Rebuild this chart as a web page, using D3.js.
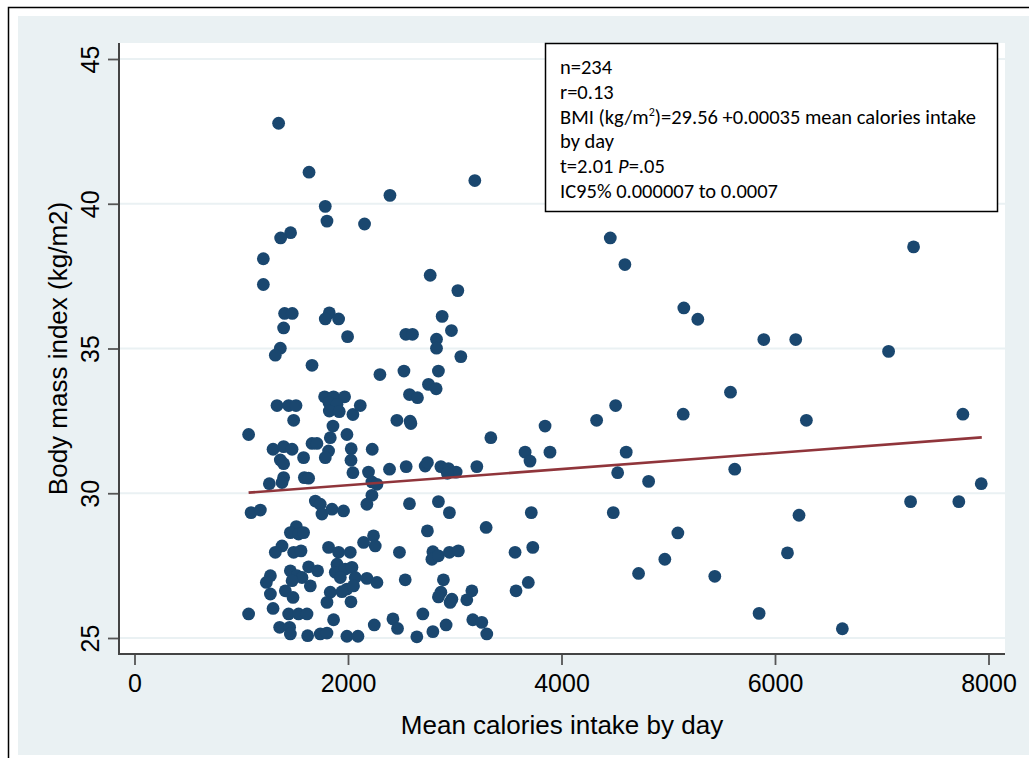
<!DOCTYPE html>
<html>
<head>
<meta charset="utf-8">
<script src="https://cdn.jsdelivr.net/npm/d3@7"></script>
<style>
  body { margin: 0; background: #fff; }
  svg { display: block; }
  text { font-family: "Liberation Sans", Arial, sans-serif; fill: #000; }
  .stats text { font-family: Carlito, Lato, "Open Sans", sans-serif; }
</style>
</head>
<body>
<div id="chart"></div>
<script>
// values
const calories = [
  1350,1635,3188,2393,1787,1803,2155,1462,1369,1207,
  1207,2770,3029,1406,1478,1825,1787,1912,1397,1996,
  2882,2969,2542,2604,2829,2829,1366,1319,3057,1663,
  2299,2524,2847,1781,1865,1968,1822,1897,1825,1918,
  2046,2115,1335,1444,1513,1491,1859,1069,1990,1834,
  1663,1709,1298,1397,1476,2030,2227,1818,1787,1584,
  1366,1397,2028,2046,2192,1397,1382,1591,1631,1263,
  2224,2271,2224,2177,1694,1740,1092,1179,1756,1850,
  1958,1516,1460,1537,1584,2146,2239,2255,1382,1319,
  1491,1560,1818,1912,2021,1897,1631,1715,1460,1522,
  1569,1476,1881,1974,2037,1928,2068,2177,2271,1273,
  1235,1647,1990,1943,2052,1273,1413,1485,1834,1803,
  2028,1298,1069,1444,1537,1616,1865,2246,1360,1453,
  1460,1622,1740,1803,1990,2093,2576,2651,2754,2826,
  2458,2582,2589,3338,2389,2545,2723,2744,2870,2941,
  3013,2931,3207,2576,2847,2950,3294,2744,2482,2795,
  2786,2847,2950,3034,2536,2894,2870,2847,2973,2957,
  3113,3160,2421,2464,2701,2645,2795,2919,3169,3253,
  3300,3846,3659,3705,3892,4329,4507,5140,5583,4606,
  4526,4816,5623,3717,4485,3565,3731,5090,4968,4722,
  5436,3574,3689,5851,6294,7760,7932,7270,7722,6225,
  6117,6631,4457,4594,5146,5277,5895,6194,7064,7298
];
const bmi = [
  42.78,41.09,40.80,40.29,39.91,39.40,39.30,39.00,38.82,38.10,
  37.21,37.53,37.00,36.21,36.21,36.23,36.02,36.02,35.71,35.41,
  36.11,35.62,35.49,35.49,35.32,35.01,35.01,34.77,34.72,34.42,
  34.10,34.22,34.22,33.33,33.33,33.33,33.13,33.07,32.84,32.82,
  32.72,33.03,33.03,33.03,33.03,32.52,32.32,32.03,32.03,31.92,
  31.72,31.72,31.52,31.61,31.52,31.54,31.52,31.46,31.23,31.23,
  31.15,31.02,31.14,30.71,30.73,30.54,30.37,30.54,30.52,30.33,
  30.39,30.31,29.93,29.62,29.73,29.62,29.33,29.42,29.28,29.45,
  29.39,28.85,28.64,28.59,28.64,28.30,28.53,28.18,28.18,27.96,
  27.96,28.01,28.13,27.96,27.96,27.55,27.46,27.32,27.32,27.15,
  27.09,26.98,27.27,27.38,27.44,27.09,27.09,27.06,26.92,27.15,
  26.92,26.80,26.69,26.60,26.80,26.52,26.63,26.40,26.58,26.23,
  26.25,26.02,25.83,25.83,25.83,25.83,25.63,25.45,25.37,25.37,
  25.14,25.08,25.14,25.17,25.06,25.06,33.41,33.30,33.76,33.61,
  32.52,32.49,32.41,31.92,30.83,30.92,30.94,31.06,30.92,30.85,
  30.73,30.69,30.92,29.64,29.71,29.33,28.82,28.70,27.96,27.98,
  27.72,27.84,27.96,28.01,27.01,27.01,26.58,26.42,26.34,26.23,
  26.32,26.63,25.66,25.33,25.83,25.04,25.22,25.45,25.63,25.54,
  25.14,32.32,31.42,31.11,31.42,32.52,33.03,32.73,33.49,31.42,
  30.71,30.41,30.83,29.33,29.33,27.96,28.13,28.63,27.72,27.23,
  27.13,26.63,26.92,25.85,32.52,32.73,30.33,29.71,29.71,29.24,
  27.94,25.32,38.82,37.90,36.40,36.01,35.31,35.31,34.90,38.51
];
// fitted line ends
const fitX = [1069, 7937];
const fitY = [30.02, 31.93];

const xTicks = [0, 2000, 4000, 6000, 8000];
const yTicks = [25, 30, 35, 40, 45];

const xTitle = "Mean calories intake by day";
const yTitle = "Body mass index (kg/m2)";

const W = 1029, H = 758;
const plot = {left: 119, top: 43, right: 1005, bottom: 654};

let svg = d3.select("#chart").append("svg")
  .attr("width", W)
  .attr("height", H);

// outer frame + graph region
svg.append("rect")
  .attr("x", 18).attr("y", 16)
  .attr("width", W - 18).attr("height", 739)
  .style("fill", "#eaf1f3");
svg.append("rect")
  .attr("x", 8.5).attr("y", 7.5)
  .attr("width", W).attr("height", H)
  .style("fill", "none").style("stroke", "#000").style("stroke-width", 1.5);

svg.append("rect")
  .attr("x", plot.left).attr("y", plot.top)
  .attr("width", plot.right - plot.left).attr("height", plot.bottom - plot.top)
  .style("fill", "#fff");

let x = d3.scaleLinear().domain([0, 8000]).range([134.5, 988.5]);
let y = d3.scaleLinear().domain([25, 45]).range([638, 59]);

// gridlines
svg.append("g").selectAll("line")
  .data(yTicks)
  .enter().append("line")
  .attr("x1", plot.left).attr("x2", plot.right)
  .attr("y1", d => y(d)).attr("y2", d => y(d))
  .style("stroke", "#eaf1f3").style("stroke-width", 2);

// axes
let yAxis = d3.axisLeft(y).tickValues(yTicks).tickSize(11).tickPadding(20).tickSizeOuter(0);
let gy = svg.append("g")
  .attr("transform", `translate(${plot.left},0)`)
  .call(yAxis);
gy.select(".domain").remove();
gy.selectAll(".tick line").style("stroke", "#555").style("stroke-width", 1.8);
gy.selectAll(".tick text")
  .attr("transform", "rotate(-90)")
  .attr("x", 0).attr("y", -20).attr("dy", 0)
  .style("text-anchor", "middle")
  .style("font-size", "25px")
  .style("font-family", "'Liberation Sans', Arial, sans-serif");

let xAxis = d3.axisBottom(x).tickValues(xTicks).tickSize(11).tickSizeOuter(0).tickFormat(d3.format("d"));
let gx = svg.append("g")
  .attr("transform", `translate(0,${plot.bottom})`)
  .call(xAxis);
gx.select(".domain").remove();
gx.selectAll(".tick line").style("stroke", "#555").style("stroke-width", 1.8);
gx.selectAll(".tick text")
  .attr("y", 38).attr("dy", 0)
  .style("font-size", "25px")
  .style("font-family", "'Liberation Sans', Arial, sans-serif");

svg.append("line")
  .attr("x1", plot.left).attr("x2", plot.left)
  .attr("y1", plot.top).attr("y2", plot.bottom + 1)
  .style("stroke", "#444").style("stroke-width", 2);
svg.append("line")
  .attr("x1", plot.left).attr("x2", plot.right)
  .attr("y1", plot.bottom).attr("y2", plot.bottom)
  .style("stroke", "#444").style("stroke-width", 2);

// titles
svg.append("text")
  .attr("x", (plot.left + plot.right) / 2).attr("y", 734)
  .style("text-anchor", "middle").style("font-size", "26px")
  .text(xTitle);
svg.append("text")
  .attr("transform", `translate(67,${(plot.top + plot.bottom) / 2}) rotate(-90)`)
  .style("text-anchor", "middle").style("font-size", "26px")
  .text(yTitle);

// points
let pts = calories.map((c, i) => ({c: c, b: bmi[i]}));
svg.append("g").selectAll("circle")
  .data(pts)
  .enter().append("circle")
  .attr("cx", d => x(d.c))
  .attr("cy", d => y(d.b))
  .attr("r", 6.4)
  .style("fill", "#1a476f");

// fitted line
svg.append("line")
  .attr("x1", x(fitX[0])).attr("y1", y(fitY[0]))
  .attr("x2", x(fitX[1])).attr("y2", y(fitY[1]))
  .style("stroke", "#90353b").style("stroke-width", 2.6);

// stats box
let box = svg.append("g").attr("class", "stats");
box.append("rect")
  .attr("x", 545.5).attr("y", 43.5)
  .attr("width", 452).attr("height", 168)
  .style("fill", "#fff").style("stroke", "#000").style("stroke-width", 1.5);

let tx = 560, lineGap = 24.8, fs = 20.5;
box.append("text").attr("x", tx).attr("y", 74).style("font-size", fs + "px").text("n=234");
box.append("text").attr("x", tx).attr("y", 74 + lineGap).style("font-size", fs + "px").text("r=0.13");
let bmiLine = box.append("text").attr("x", tx).attr("y", 74 + 2 * lineGap).style("font-size", fs + "px");
bmiLine.append("tspan").text("BMI (kg/m");
bmiLine.append("tspan").attr("dy", -8).style("font-size", "12px").text("2");
bmiLine.append("tspan").attr("dy", 8).text(")=29.56 +0.00035 mean calories intake");
box.append("text").attr("x", tx).attr("y", 74 + 3 * lineGap).style("font-size", fs + "px").text("by day");
let tLine = box.append("text").attr("x", tx).attr("y", 74 + 4 * lineGap).style("font-size", fs + "px");
tLine.append("tspan").text("t=2.01 ");
tLine.append("tspan").style("font-style", "italic").text("P");
tLine.append("tspan").text("=.05");
box.append("text").attr("x", tx).attr("y", 74 + 5 * lineGap).style("font-size", fs + "px").text("IC95% 0.000007 to 0.0007");
</script>
</body>
</html>
